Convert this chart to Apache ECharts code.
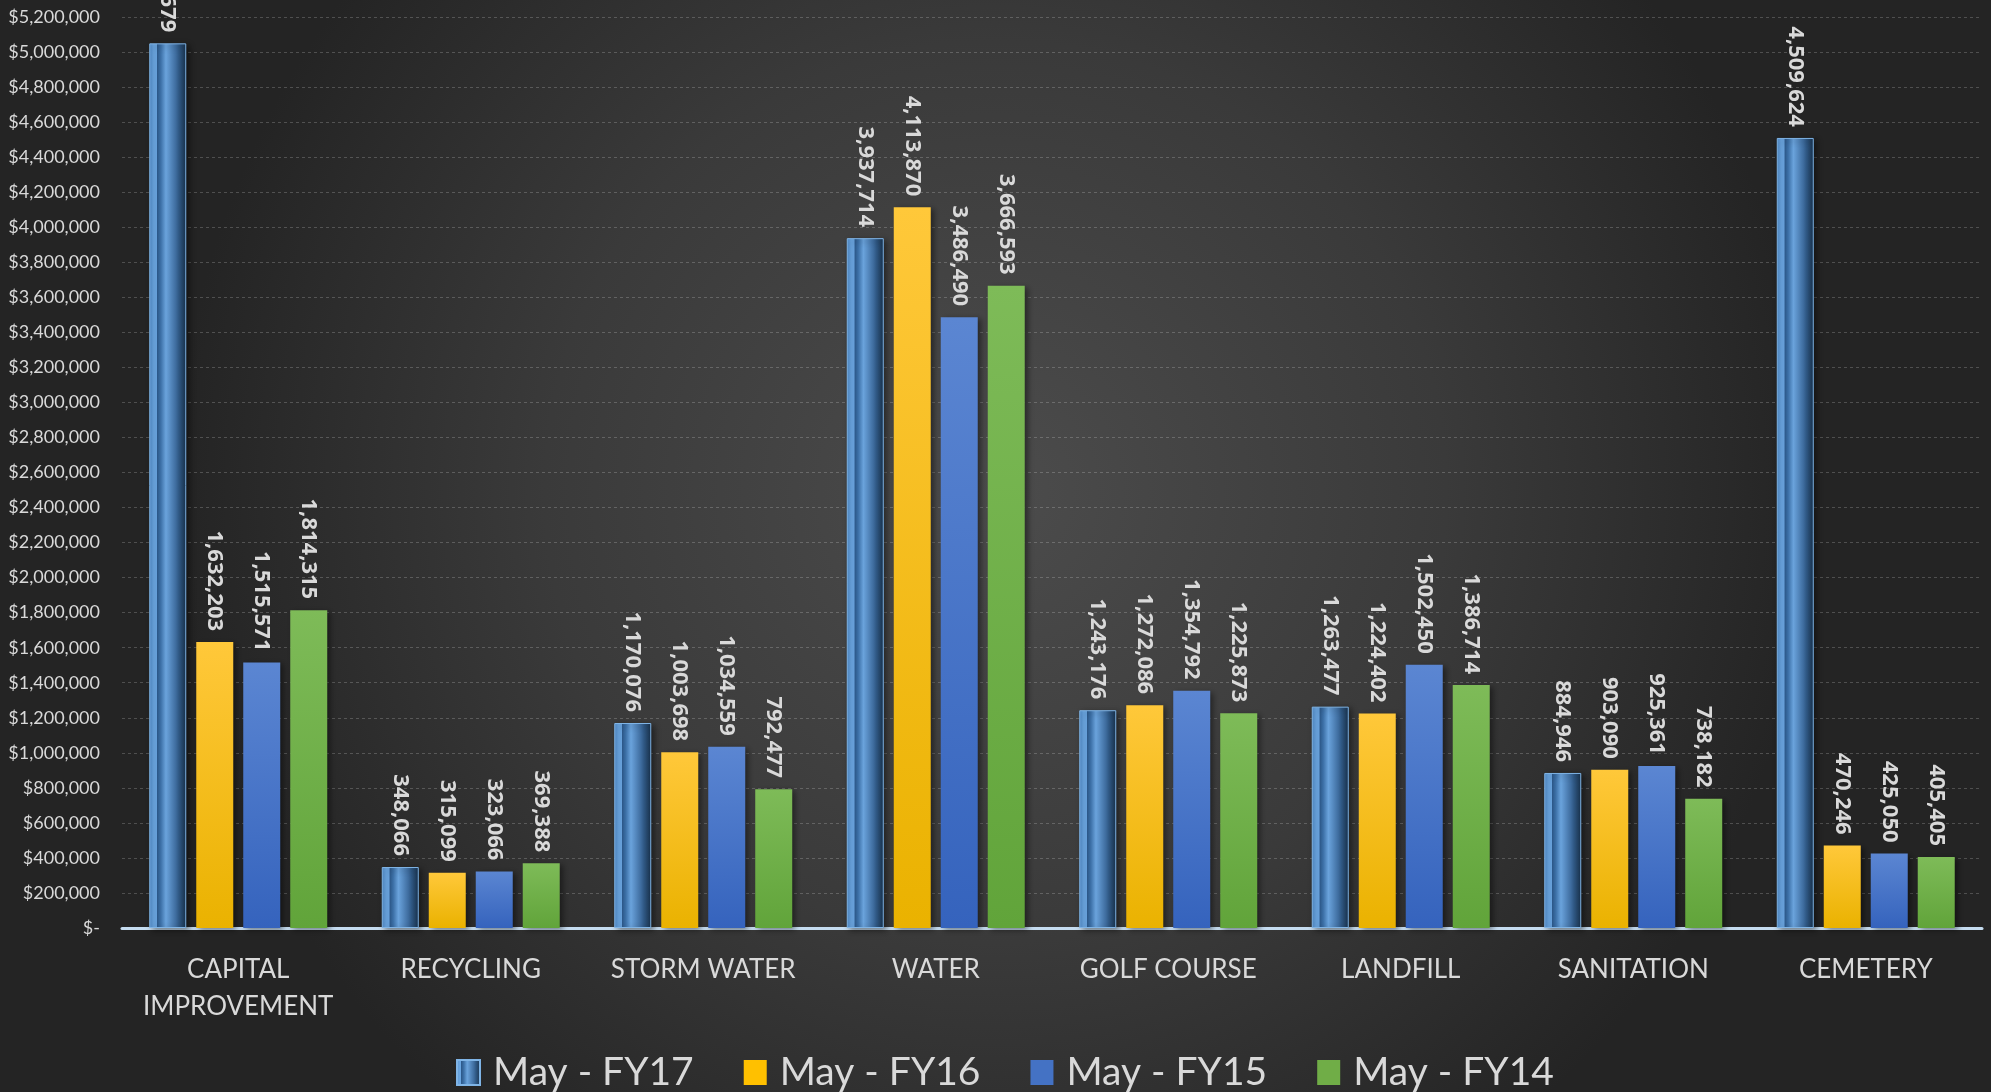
<!DOCTYPE html>
<html>
<head>
<meta charset="utf-8">
<script src="https://cdn.jsdelivr.net/npm/echarts@6/dist/echarts.min.js"></script>
<style>
html,body{margin:0;padding:0;background:#2b2b2b;}
#chart{width:1991px;height:1092px;}
</style>
</head>
<body>
<div id="chart"></div>
<script>
const categories = ['CAPITAL\nIMPROVEMENT','RECYCLING','STORM WATER','WATER','GOLF COURSE','LANDFILL','SANITATION','CEMETERY'];
const seriesNames = ['May - FY17','May - FY16','May - FY15','May - FY14'];
const fy17 = [5049679, 348066, 1170076, 3937714, 1243176, 1263477, 884946, 4509624];
const fy16 = [1632203, 315099, 1003698, 4113870, 1272086, 1224402, 903090, 470246];
const fy15 = [1515571, 323066, 1034559, 3486490, 1354792, 1502450, 925361, 425050];
const fy14 = [1814315, 369388, 792477, 3666593, 1225873, 1386714, 738182, 405405];

const chart = echarts.init(document.getElementById('chart'), null, {renderer:'canvas'});

const bevel = new echarts.graphic.LinearGradient(0,0,1,0,[
  {offset:0, color:'#4f88c4'},
  {offset:0.12, color:'#6aa5e0'},
  {offset:0.2, color:'#6aa5e0'},
  {offset:0.22, color:'#2d5a8c'},
  {offset:0.32, color:'#3f73aa'},
  {offset:0.45, color:'#6aa3dc'},
  {offset:0.55, color:'#5a8fc6'},
  {offset:0.72, color:'#3e6c9e'},
  {offset:0.8, color:'#2f5884'},
  {offset:0.9, color:'#244466'},
  {offset:1, color:'#16304c'}
]);
function vgrad(top, bottom){
  return new echarts.graphic.LinearGradient(0,0,0,1,[{offset:0,color:top},{offset:1,color:bottom}]);
}
const fills = [bevel, vgrad('#ffc83a','#eab200'), vgrad('#5b86d2','#3563bd'), vgrad('#7ebb58','#61a43a')];
const legendColors = ['#4f88c4','#ffc000','#4472c4','#70ad47'];
const dataSets = [fy17, fy16, fy15, fy14];

const labelCfg = {
  show:true, position:'top', distance:11, rotate:-90, align:'right', verticalAlign:'middle',
  color:'#d9d9d9', fontFamily:'Open Sans', fontWeight:'bold', fontSize:22,
  formatter: p => Number(p.value).toLocaleString('en-US')
};

const series = dataSets.map((d,i)=>({
  name: seriesNames[i],
  type:'bar',
  data: d,
  barWidth: 37,
  barGap: '27%',
  itemStyle: {
    color: fills[i],
    shadowBlur: 6, shadowColor:'rgba(0,0,0,0.45)', shadowOffsetX: 3, shadowOffsetY: 2,
    borderColor: i===0 ? '#7fb4e6' : 'transparent', borderWidth: i===0 ? 1 : 0
  },
  label: labelCfg
}));

chart.setOption({
  animation:false,
  graphic:[{
    type:'rect', z:-100, silent:true,
    shape:{x:0,y:0,width:1991,height:1092},
    style:{fill:new echarts.graphic.RadialGradient(0.5,0.45,0.75,[
      {offset:0,color:'#4c4c4c'},{offset:0.55,color:'#3a3a3a'},{offset:1,color:'#242424'}])}
  }],
  grid:{left:122, right:9, top:17, bottom:164, containLabel:false},
  legend:{
    data: seriesNames.map((n,i)=>({name:n, itemStyle:{color: i===0? bevel : legendColors[i]}})),
    left:451, top:1048, itemWidth:23, itemHeight:25, itemGap:50,
    textStyle:{color:'#d9d9d9', fontFamily:'Lato', fontSize:39, padding:[0,0,0,8]},
    icon:'rect'
  },
  xAxis:{
    type:'category', data:categories,
    axisLine:{lineStyle:{color:'#c5dcf0', width:3}},
    axisTick:{show:false},
    axisLabel:{color:'#d9d9d9', fontFamily:'Lato', fontSize:26, lineHeight:37, interval:0, margin:23}
  },
  yAxis:{
    type:'value', min:0, max:5200000, interval:200000,
    axisLine:{show:false}, axisTick:{show:false},
    splitLine:{lineStyle:{color:'rgba(255,255,255,0.2)', type:[3,3], width:1}},
    axisLabel:{color:'#d9d9d9', fontFamily:'Lato', fontSize:18, margin:22,
      formatter: v => v===0 ? '$-' : '$' + v.toLocaleString('en-US')}
  },
  series: series
});
</script>
</body>
</html>
